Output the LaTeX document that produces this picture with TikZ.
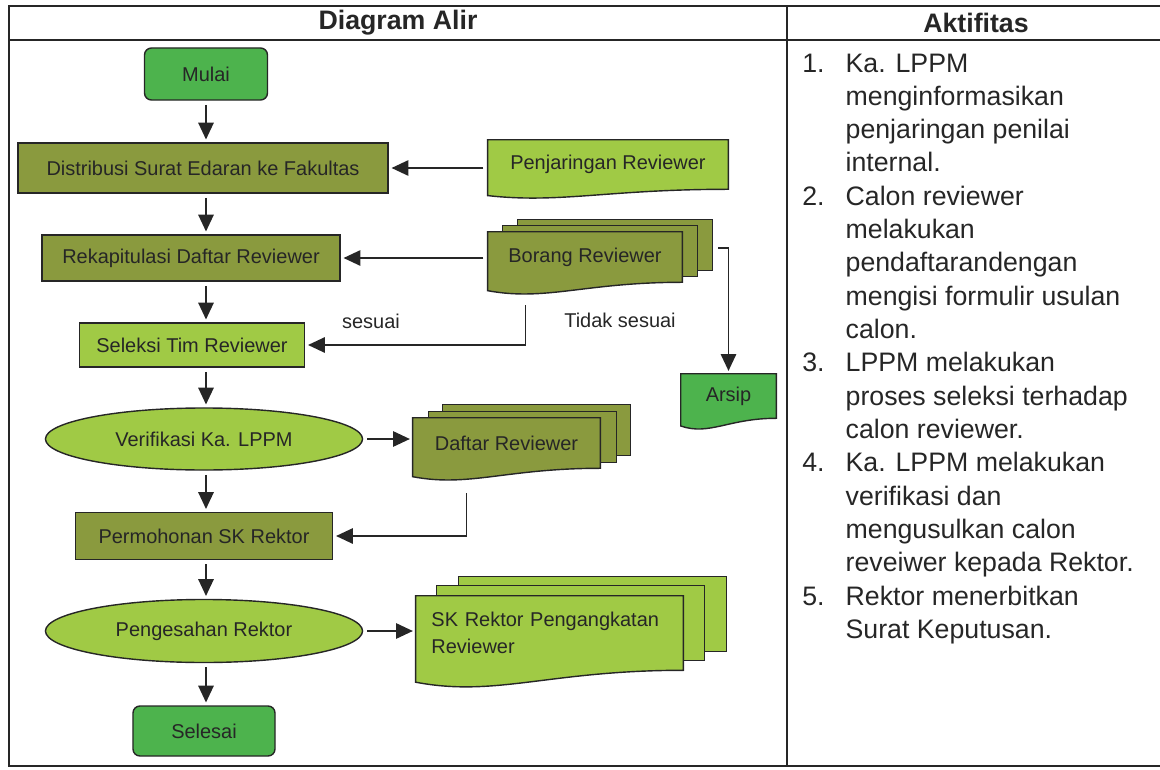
\documentclass[tikz,border=0pt]{standalone}
\usepackage{fontspec}
\setmainfont{Liberation Sans}
\usetikzlibrary{arrows.meta,calc,shapes.geometric,backgrounds}

\definecolor{startgreen}{HTML}{4DB34D}
\definecolor{boxolive}{HTML}{8A9A3E}
\definecolor{boxlight}{HTML}{A0CA45}
\definecolor{inkgray}{HTML}{262626}

\tikzset{
  tableline/.style={draw=inkgray, line width=0.8pt},
  headtext/.style={font=\fontsize{19}{21}\selectfont\bfseries, text=inkgray},
  flowtext/.style={font=\fontsize{14.2}{19}\selectfont, text=inkgray},
  terminal/.style={flowtext, rectangle, rounded corners=5pt, draw=inkgray, line width=1pt, fill=startgreen},
  procbox/.style={flowtext, rectangle, draw=inkgray, line width=1pt, fill=boxolive},
  lightbox/.style={flowtext, rectangle, draw=inkgray, line width=1pt, fill=boxlight},
  decision/.style={flowtext, ellipse, draw=inkgray, line width=1pt, fill=boxlight, inner sep=0pt},
  docnode/.style={flowtext, rectangle},
  docline/.style={draw=inkgray, line width=1pt},
  labeltext/.style={flowtext},
  acttext/.style={font=\fontsize{19}{23.7}\selectfont, text=inkgray, inner sep=0pt},
  arr/.style={draw=inkgray, line width=1.1pt, -{Triangle[length=12pt,width=11pt]}, shorten <=3pt, shorten >=2pt}
}

% page with a wavy bottom, drawn round a node
\newcommand{\docpage}[3]{%
  \filldraw[docline, fill=#2] (#1.north west) -- (#1.north east) -- (#1.south east)
    .. controls ($(#1.south east)!0.5!(#1.south west)$) and ($(#1.south west)!0.3!(#1.south east)+(0,1.6*#3)$)
    .. ($(#1.south west)+(0,0.7*#3)$) -- cycle;}
% page behind, shifted
\newcommand{\backpage}[4]{%
  \filldraw[docline, fill=#4] ($(#1.north west)+(#2,#3)$) rectangle ($(#1.south east)+(#2,#3)$);}

\begin{document}
\begin{tikzpicture}[x=0.025cm, y=-0.025cm]
\useasboundingbox (0,0) rectangle (1160,770);

\draw[tableline] (1160,6) -- (9,6) -- (9,766) -- (1160,766);
\draw[tableline] (9,40) -- (1160,40);
\draw[tableline] (787,6) -- (787,766);
\node[headtext] (headflow) at (398,23) {Diagram Alir};
\node[headtext] (headact) at (976,23) {Aktifitas};

\node[terminal, minimum width=3.075cm, minimum height=1.3cm] (mulai) at (206,74) {Mulai};
\node[procbox, minimum width=9.25cm, minimum height=1.25cm] (distribusi) at (203,168) {Distribusi Surat Edaran ke Fakultas};
\node[procbox, minimum width=7.45cm, minimum height=1.15cm] (rekap) at (191,258) {Rekapitulasi Daftar Reviewer};
\node[lightbox, minimum width=5.625cm, minimum height=1.1cm] (seleksi) at (192,345) {Seleksi Tim Reviewer};
\node[decision, minimum width=7.925cm, minimum height=1.55cm] (verif) at (204,439) {Verifikasi Ka. LPPM};
\node[procbox, minimum width=6.425cm, minimum height=1.175cm] (permohonan) at (204,536) {Permohonan SK Rektor};
\node[decision, minimum width=7.925cm, minimum height=1.575cm] (pengesahan) at (204,631) {Pengesahan Rektor};
\node[terminal, minimum width=3.55cm, minimum height=1.25cm] (selesai) at (204,731) {Selesai};

\node[docnode, minimum width=6cm, minimum height=1.225cm] (penjaringan) at (608,164.5) {Penjaringan Reviewer};
\node[docnode, minimum width=4.85cm, minimum height=1.25cm] (borang) at (585,257) {Borang Reviewer};
\node[docnode, minimum width=2.375cm, minimum height=1.1cm] (arsip) at (728.5,396) {Arsip};
\node[docnode, minimum width=4.675cm, minimum height=1.25cm] (daftar) at (506.5,443) {Daftar Reviewer};
\node[docnode, minimum width=6.675cm, minimum height=1.85cm, text width=5.9cm, inner xsep=0.3875cm, align=left] (sk) at (549.5,633) {\mbox{SK Rektor Pengangkatan}\\Reviewer};

\begin{pgfonlayer}{background}
\backpage{borang}{30}{-12}{boxolive}
\backpage{borang}{15}{-6}{boxolive}
\docpage{borang}{boxolive}{12}
\docpage{penjaringan}{boxlight}{9}
\docpage{arsip}{startgreen}{11}
\backpage{daftar}{30}{-13}{boxolive}
\backpage{daftar}{16}{-6}{boxolive}
\docpage{daftar}{boxolive}{12}
\backpage{sk}{43}{-19}{boxlight}
\backpage{sk}{21}{-10}{boxlight}
\docpage{sk}{boxlight}{17}
\end{pgfonlayer}

\draw[arr] (mulai.south) -- (mulai.south |- distribusi.north);
\draw[arr] (distribusi.south -| mulai) -- (rekap.north -| mulai);
\draw[arr] (rekap.south -| mulai) -- (seleksi.north -| mulai);
\draw[arr] (seleksi.south -| mulai) -- (verif.north -| mulai);
\draw[arr] (verif.south -| mulai) -- (permohonan.north -| mulai);
\draw[arr] (permohonan.south -| mulai) -- (pengesahan.north -| mulai);
\draw[arr] (pengesahan.south -| mulai) -- (selesai.north -| mulai);

\draw[arr] (penjaringan.west |- distribusi) -- (distribusi.east);
\draw[arr] (borang.west |- rekap) -- (rekap.east);
\coordinate (sesuaiout) at ($(borang.south west)+(38,23)$);
\draw[arr, shorten <=0pt] (sesuaiout) |- (seleksi.east);
\coordinate (tidakout) at ($(borang.east)+(36,-9)$);
\draw[arr, shorten <=0pt] (tidakout) -| (arsip.north);
\node[labeltext] (sesuailbl) at (371,321) {sesuai};
\node[labeltext] (tidaklbl) at (620,320) {Tidak sesuai};

\draw[arr] (verif.east) -- (verif.east -| daftar.west);
\coordinate (daftarout) at ($(daftar.south west)+(54,25)$);
\draw[arr, shorten <=0pt] (daftarout) |- (permohonan.east);
\draw[arr] (pengesahan.east) -- (pengesahan.east -| sk.west);

\node[acttext, anchor=base west] (aktifitas) at (802,72) {\begin{tabular}[t]{@{}r@{\hspace{15pt}}l@{}}
1. & Ka. LPPM\\
   & menginformasikan\\
   & penjaringan penilai\\
   & internal.\\
2. & Calon reviewer\\
   & melakukan\\
   & pendaftarandengan\\
   & mengisi formulir usulan\\
   & calon.\\
3. & LPPM melakukan\\
   & proses seleksi terhadap\\
   & calon reviewer.\\
4. & Ka. LPPM melakukan\\
   & verifikasi dan\\
   & mengusulkan calon\\
   & reveiwer kepada Rektor.\\
5. & Rektor menerbitkan\\
   & Surat Keputusan.
\end{tabular}};
\end{tikzpicture}
\end{document}
